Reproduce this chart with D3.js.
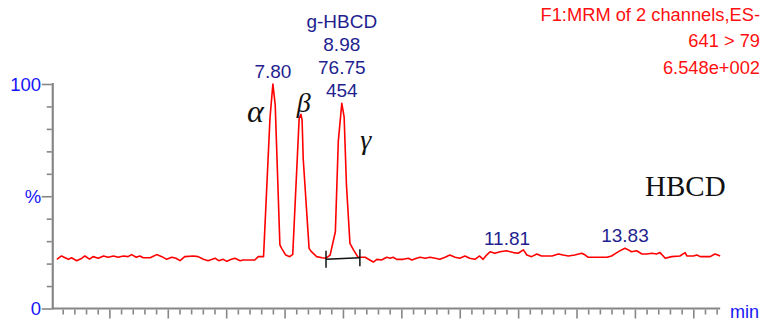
<!DOCTYPE html>
<html><head><meta charset="utf-8">
<script src="https://cdn.jsdelivr.net/npm/d3@7/dist/d3.min.js"></script>
<style>html,body{margin:0;padding:0;background:#fff;}svg{display:block;}</style>
</head><body>
<svg id="chart" width="766" height="322"></svg>
<script>
// ---- data ----
const traceTime = [4.10,4.18,4.26,4.30,4.35,4.44,4.53,4.58,4.66,4.72,4.81,4.90,4.98,5.07,5.15,5.24,5.32,5.38,5.46,5.52,5.58,5.70,5.81,5.90,5.98,6.07,6.14,6.21,6.29,6.44,6.52,6.61,6.69,6.81,6.87,6.95,7.01,7.09,7.15,7.24,7.29,7.49,7.55,7.64,7.75,7.80,7.84,7.92,7.95,8.02,8.09,8.14,8.25,8.28,8.30,8.32,8.42,8.46,8.55,8.64,8.71,8.78,8.87,8.92,8.98,9.02,9.06,9.12,9.18,9.26,9.38,9.46,9.52,9.58,9.66,9.75,9.81,9.86,9.92,10.03,10.12,10.18,10.26,10.32,10.41,10.49,10.58,10.66,10.75,10.83,10.92,11.00,11.09,11.17,11.26,11.34,11.40,11.46,11.52,11.60,11.69,11.80,11.92,12.00,12.09,12.15,12.23,12.32,12.40,12.52,12.58,12.69,12.77,12.86,12.97,13.09,13.15,13.20,13.35,13.52,13.60,13.69,13.77,13.83,13.89,13.94,14.03,14.12,14.20,14.29,14.37,14.43,14.52,14.63,14.77,14.86,14.89,15.00,15.06,15.12,15.29,15.37,15.43,15.46];
const traceIntensity = [21.9,23.4,22.4,21.9,22.6,21.3,22.4,23.4,22.0,23.1,22.4,23.4,22.8,23.4,22.8,23.4,23.1,24.0,22.8,23.4,22.6,22.6,24.0,23.1,21.9,22.8,22.4,21.3,23.1,23.4,23.1,21.9,21.3,22.4,21.3,21.9,21.0,21.9,22.4,21.3,21.6,21.6,23.1,23.1,84.7,100,90.6,28.3,26.8,23.8,23.1,24.1,84.7,86.5,84.0,66.5,26.8,25.3,23.1,22.6,22.4,23.8,34.2,74.3,91.4,85.4,55.0,29.0,26.1,22.8,22.8,21.6,20.7,21.9,21.6,22.8,22.4,22.8,21.9,21.9,22.4,21.6,22.4,22.8,22.4,22.8,22.4,21.9,22.8,23.8,22.8,22.4,23.4,22.4,21.9,23.4,21.9,23.8,25.3,24.6,25.3,25.7,24.9,24.6,26.1,23.8,23.1,24.3,23.4,23.4,23.4,24.3,23.8,23.4,23.8,24.6,23.8,22.8,22.8,22.8,23.4,24.9,26.1,26.8,26.1,25.3,25.7,24.3,24.3,24.6,24.3,24.9,22.4,23.1,23.4,24.9,23.4,23.4,23.8,23.1,23.1,24.3,23.7,23.4];

const xMajorTicks = [5,6,7,8,9,10,11,12,13,14,15];
const xMinorTicks = [4.2,4.4,4.6,4.8,5.2,5.4,5.6,5.8,6.2,6.4,6.6,6.8,7.2,7.4,7.6,7.8,8.2,8.4,8.6,8.8,9.2,9.4,9.6,9.8,10.2,10.4,10.6,10.8,11.2,11.4,11.6,11.8,12.2,12.4,12.6,12.8,13.2,13.4,13.6,13.8,14.2,14.4,14.6,14.8,15.2,15.4];
const yTickValues = [0,10,20,30,40,50,60,70,80,90,100];
const yTickLabels = ["0","","","","","%","","","","","100"];
const xAxisTitle = "min";

const peakLabelTimes = [7.80, 8.98, 11.81, 13.83];
const peakLabelLines = [["7.80"], ["g-HBCD","8.98","76.75","454"], ["11.81"], ["13.83"]];
const peakLabelHeights = [100, 91.4, 25.7, 26.8];

const headerLines = ["F1:MRM of 2 channels,ES-", "641 > 79", "6.548e+002"];
const isomerLabels = ["α", "β", "γ"];
const isomerTimes = [7.50, 8.33, 9.39];
const isomerLevels = [83, 87.5, 71];
const compoundName = "HBCD";

const integrationStart = [8.71, 21.9];
const integrationEnd = [9.29, 22.6];

// ---- scales ----
const x = d3.scaleLinear().domain([4, 15]).range([51, 693.3]);
const y = d3.scaleLinear().domain([0, 100]).range([308.5, 84]);
const xStart = 4.03, xEnd = 15.46;

const svg = d3.select("#chart");
const axisColor = "#868686";
const sans = "'Liberation Sans', Arial, sans-serif";
const serif = "'Liberation Serif', 'Times New Roman', serif";

// axes lines
svg.append("line").attr("x1", x(xStart)).attr("x2", x(xStart)).attr("y1", y(100) - 1).attr("y2", y(0) + 1)
  .attr("stroke", axisColor).attr("stroke-width", 2.2);
svg.append("line").attr("x1", x(xStart) - 1).attr("x2", x(xEnd)).attr("y1", y(0)).attr("y2", y(0))
  .attr("stroke", axisColor).attr("stroke-width", 2.2);

// x ticks
const xAxisMinor = d3.axisBottom(x).tickValues(xMinorTicks).tickSize(5).tickFormat("");
const xAxisMajor = d3.axisBottom(x).tickValues(xMajorTicks).tickSize(9).tickFormat("");
[xAxisMinor, xAxisMajor].forEach(ax => {
  const g = svg.append("g").attr("transform", `translate(0,${y(0) + 1})`).call(ax);
  g.select(".domain").remove();
  g.selectAll("line").attr("stroke", axisColor).attr("stroke-width", 1.6);
});

// y ticks
const yAxis = d3.axisLeft(y).tickValues(yTickValues).tickFormat("").tickSize(5);
const gy = svg.append("g").attr("transform", `translate(${x(xStart) - 1},0)`).call(yAxis);
gy.select(".domain").remove();
gy.selectAll("line").attr("stroke", axisColor).attr("stroke-width", 1.6)
  .attr("x2", d => (d % 50 === 0 ? -10 : -5));

// y labels
svg.selectAll("text.ylab").data(yTickValues.map((v, i) => ({v, t: yTickLabels[i]})).filter(d => d.t))
  .enter().append("text").attr("class", "ylab")
  .attr("x", d => d.t === "%" ? 33 : 41).attr("y", d => y(d.v) + 6.5)
  .attr("text-anchor", d => d.t === "%" ? "middle" : "end")
  .attr("font-family", sans).attr("font-size", 18.5).attr("fill", "#1515f5").text(d => d.t);

svg.append("text").attr("x", 730).attr("y", y(0) + 9).attr("font-family", sans).attr("font-size", 18)
  .attr("fill", "#1515f5").text(xAxisTitle);

// trace
const tracePts = traceTime.map((t, i) => [t, traceIntensity[i]]);
svg.append("path").datum(tracePts)
  .attr("d", d3.line().x(d => x(d[0])).y(d => y(d[1])))
  .attr("fill", "none").attr("stroke", "#ff0000").attr("stroke-width", 1.6).attr("stroke-linejoin", "round");

// integration marker
const ig = svg.append("g").attr("stroke", "#111").attr("stroke-width", 1.5);
ig.append("line").attr("x1", x(integrationStart[0])).attr("y1", y(integrationStart[1]))
  .attr("x2", x(integrationEnd[0])).attr("y2", y(integrationEnd[1]));
[integrationStart, integrationEnd].forEach(p => {
  ig.append("line").attr("x1", x(p[0])).attr("x2", x(p[0]))
    .attr("y1", y(p[1]) - 8.5).attr("y2", y(p[1]) + 8.5);
});

// peak labels
peakLabelTimes.forEach((t, i) => {
  const lines = peakLabelLines[i];
  const base = y(peakLabelHeights[i]) - 6;
  lines.forEach((s, j) => {
    svg.append("text").attr("x", x(t)).attr("y", base - (lines.length - 1 - j) * 23)
      .attr("text-anchor", "middle").attr("font-family", sans).attr("font-size", 19)
      .attr("fill", "#1f1f8f").text(s);
  });
});

// header
headerLines.forEach((s, j) => {
  svg.append("text").attr("x", 760).attr("y", 20.5 + j * 26.5).attr("text-anchor", "end")
    .attr("font-family", sans).attr("font-size", 18.3).attr("fill", "#ff1010").text(s);
});

// isomer labels
const isoSizes = [32, 28, 28];
isomerLabels.forEach((s, i) => {
  svg.append("text").attr("x", x(isomerTimes[i])).attr("y", y(isomerLevels[i]))
    .attr("text-anchor", "middle").attr("font-family", serif).attr("font-style", "italic")
    .attr("font-size", isoSizes[i]).attr("fill", "#111").text(s);
});

svg.append("text").attr("x", 645).attr("y", 196).attr("font-family", serif).attr("font-size", 29)
  .attr("fill", "#111").text(compoundName);
</script>
</body></html>
